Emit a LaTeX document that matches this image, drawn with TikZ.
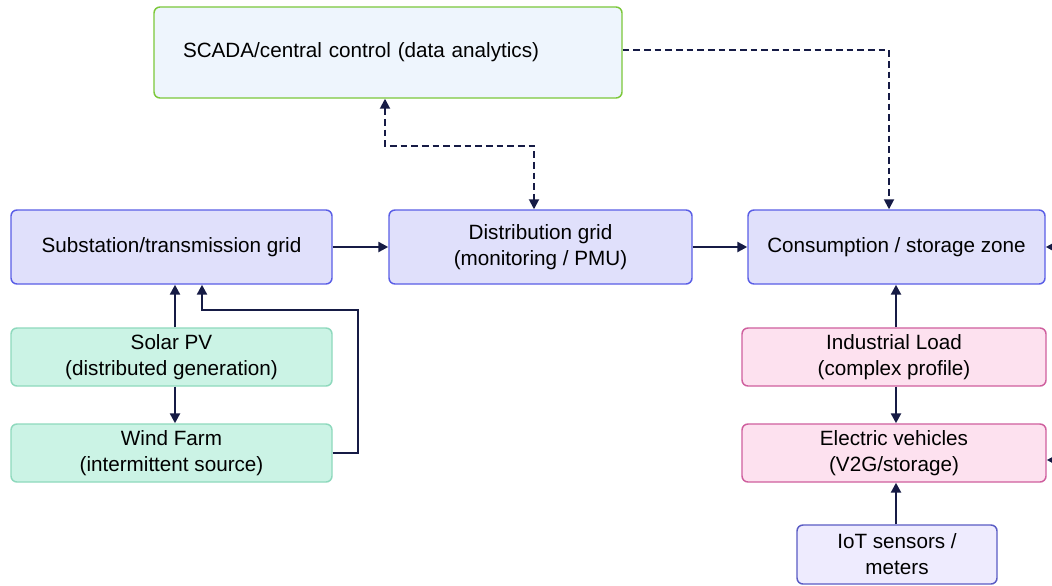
\documentclass[tikz,border=0pt]{standalone}
\usepackage{fontspec}
\setmainfont{Liberation Sans}
\usetikzlibrary{arrows.meta}

\definecolor{navy}{HTML}{161B45}
\definecolor{scadafill}{HTML}{EEF5FD}
\definecolor{scadaline}{HTML}{7CC83A}
\definecolor{gridfill}{HTML}{E0E0FB}
\definecolor{gridline}{HTML}{5A5EE6}
\definecolor{genfill}{HTML}{CBF3E5}
\definecolor{genline}{HTML}{8ED9BD}
\definecolor{loadfill}{HTML}{FDE1EF}
\definecolor{loadline}{HTML}{CF5F9E}
\definecolor{iotfill}{HTML}{EEEBFE}
\definecolor{iotline}{HTML}{5A5CC4}

\tikzset{
  box/.style={rounded corners=4.5pt, line width=1.1pt, align=center,
    font=\fontsize{15.5}{19.5}\selectfont, inner sep=2pt},
  gridbox/.style={box, fill=gridfill, draw=gridline,
    minimum height=55.5pt},
  genbox/.style={box, fill=genfill, draw=genline,
    minimum width=240.75pt, minimum height=43.5pt},
  loadbox/.style={box, fill=loadfill, draw=loadline,
    minimum width=228pt, minimum height=43.5pt},
  tip/.style={Triangle[length=7.5pt,width=7.5pt]},
  flow/.style={line width=1.8pt, draw=navy, -{Triangle[length=7.5pt,width=7.5pt]}},
  ctrl/.style={line width=1.4pt, draw=navy, dash pattern=on 5pt off 3pt,
    -{Triangle[length=7.5pt,width=7.5pt]}},
}

\begin{document}
\begin{tikzpicture}[x=0.75pt,y=-0.75pt]
\path[use as bounding box, clip] (0,0) rectangle (1052,585);
\fill[white] (0,0) rectangle (1052,585);

% control layer
\node[box, fill=scadafill, draw=scadaline, minimum height=68.25pt,
      text width=307.5pt, inner xsep=21.75pt, align=left]
  (scada) at (388,52.5) {SCADA/central control (data analytics)};

% grid chain
\node[gridbox, minimum width=240.75pt] (sub)  at (171.5,247) {Substation/transmission grid};
\node[gridbox, minimum width=227.25pt] (dist) at (540.5,247) {Distribution grid\\(monitoring / PMU)};
\node[gridbox, minimum width=222.75pt] (cons) at (896.5,247) {Consumption / storage zone};

% generation
\node[genbox] (solar) at (171.5,357) {Solar PV\\(distributed generation)};
\node[genbox] (wind)  at (171.5,453) {Wind Farm\\(intermittent source)};

% loads
\node[loadbox] (ind) at (894,357) {Industrial Load\\(complex profile)};
\node[loadbox] (ev)  at (894,453) {Electric vehicles\\(V2G/storage)};
\node[box, fill=iotfill, draw=iotline, minimum width=150pt, minimum height=44.25pt]
  (iot) at (897,554.5) {IoT sensors /\\meters};

% power flow
\draw[flow] (solar.north -| 175,0) -- (sub.south -| 175,0);
\draw[flow] (sub.east) -- (dist.west);
\draw[flow] (dist.east) -- (cons.west);
\draw[flow] (solar.south -| 175,0) -- (wind.north -| 175,0);
\draw[flow] (wind.east) -- (358,453) -- (358,310) -- (202,310) -- (sub.south -| 202,0);
\draw[flow] (ind.north -| 896,0) -- (cons.south -| 896,0);
\draw[flow] (ind.south -| 896,0) -- (ev.north -| 896,0);
\draw[flow] (iot.north -| 896,0) -- (ev.south -| 896,0);

% links entering from the right
\coordinate (rin1) at (1070,247);
\coordinate (rin2) at (1070,460);
\draw[flow] (rin1) -- (cons.east);
\draw[flow] (rin2) -- (ev.east |- rin2);

% control links
\draw[ctrl, {Triangle[length=7.5pt,width=7.5pt]}-{Triangle[length=7.5pt,width=7.5pt]}]
  (scada.south -| 385,0) -- (385,146) -- (534,146) -- (dist.north -| 534,0);
\draw[ctrl] (scada.east |- 0,50) -- (889,50) -- (cons.north -| 889,0);
\end{tikzpicture}
\end{document}
